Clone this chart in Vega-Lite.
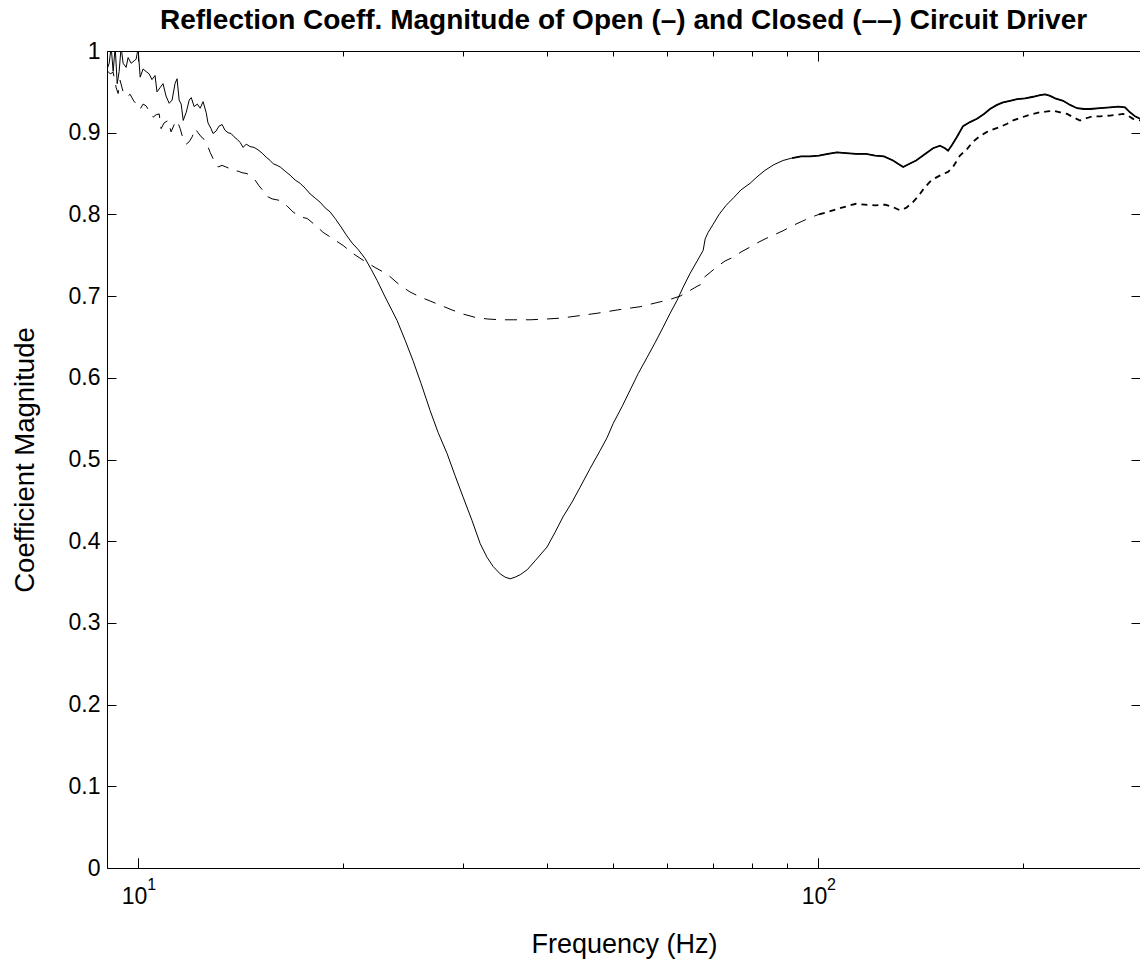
{
  "$schema": "https://vega.github.io/schema/vega-lite/v6.json",
  "width": 1033,
  "height": 817,
  "autosize": {"type": "none"},
  "padding": {"left": 107, "top": 51, "right": 0, "bottom": 98},
  "background": "white",
  "config": {
    "view": {"stroke": "black", "strokeWidth": 1},
    "font": "Liberation Sans",
    "axis": {
      "domain": false, "grid": false, "tickColor": "black", "tickWidth": 1,
      "labelColor": "black", "titleColor": "black", "labelFont": "Liberation Sans",
      "titleFont": "Liberation Sans", "labelFlush": false, "labelOverlap": false,
      "titleFontWeight": "normal"
    }
  },
  "title": {
    "text": "Reflection Coeff. Magnitude of Open (–) and Closed (––) Circuit Driver",
    "font": "Liberation Sans", "fontSize": 28, "fontWeight": "bold", "color": "black",
    "anchor": "middle", "frame": "group", "offset": 5
  },
  "datasets": {
    "open": [
      {"freq": 9.004, "mag": 0.978}, {"freq": 9.066, "mag": 0.985}, {"freq": 9.128, "mag": 1.005}, {"freq": 9.19, "mag": 0.975},
      {"freq": 9.253, "mag": 1.005}, {"freq": 9.316, "mag": 0.96}, {"freq": 9.378, "mag": 0.975}, {"freq": 9.441, "mag": 1.005},
      {"freq": 9.505, "mag": 0.985}, {"freq": 9.602, "mag": 0.98}, {"freq": 9.667, "mag": 0.992}, {"freq": 9.766, "mag": 0.985},
      {"freq": 9.866, "mag": 0.988}, {"freq": 9.933, "mag": 0.99}, {"freq": 10.0, "mag": 1.003}, {"freq": 10.07, "mag": 0.968},
      {"freq": 10.17, "mag": 0.978}, {"freq": 10.27, "mag": 0.975}, {"freq": 10.38, "mag": 0.972}, {"freq": 10.48, "mag": 0.965},
      {"freq": 10.59, "mag": 0.97}, {"freq": 10.66, "mag": 0.95}, {"freq": 10.77, "mag": 0.955}, {"freq": 10.88, "mag": 0.96},
      {"freq": 10.99, "mag": 0.945}, {"freq": 11.11, "mag": 0.936}, {"freq": 11.22, "mag": 0.94}, {"freq": 11.33, "mag": 0.96},
      {"freq": 11.41, "mag": 0.966}, {"freq": 11.49, "mag": 0.94}, {"freq": 11.57, "mag": 0.935}, {"freq": 11.65, "mag": 0.915},
      {"freq": 11.77, "mag": 0.925}, {"freq": 11.89, "mag": 0.94}, {"freq": 11.97, "mag": 0.943}, {"freq": 12.09, "mag": 0.932},
      {"freq": 12.22, "mag": 0.935}, {"freq": 12.34, "mag": 0.93}, {"freq": 12.46, "mag": 0.938}, {"freq": 12.59, "mag": 0.925},
      {"freq": 12.67, "mag": 0.912}, {"freq": 12.8, "mag": 0.905}, {"freq": 12.89, "mag": 0.899}, {"freq": 13.02, "mag": 0.902},
      {"freq": 13.15, "mag": 0.908}, {"freq": 13.29, "mag": 0.91}, {"freq": 13.42, "mag": 0.903}, {"freq": 13.56, "mag": 0.9},
      {"freq": 13.7, "mag": 0.899}, {"freq": 13.84, "mag": 0.895}, {"freq": 13.98, "mag": 0.892}, {"freq": 14.13, "mag": 0.888},
      {"freq": 14.27, "mag": 0.882}, {"freq": 14.42, "mag": 0.886}, {"freq": 14.61, "mag": 0.883}, {"freq": 14.81, "mag": 0.882},
      {"freq": 15.01, "mag": 0.879}, {"freq": 15.22, "mag": 0.875}, {"freq": 15.43, "mag": 0.87}, {"freq": 15.64, "mag": 0.866},
      {"freq": 15.8, "mag": 0.862}, {"freq": 16.01, "mag": 0.86}, {"freq": 16.18, "mag": 0.858}, {"freq": 16.45, "mag": 0.853},
      {"freq": 16.73, "mag": 0.848}, {"freq": 17.02, "mag": 0.842}, {"freq": 17.31, "mag": 0.838}, {"freq": 17.61, "mag": 0.832},
      {"freq": 17.91, "mag": 0.825}, {"freq": 18.21, "mag": 0.82}, {"freq": 18.52, "mag": 0.815}, {"freq": 18.84, "mag": 0.808},
      {"freq": 19.16, "mag": 0.803}, {"freq": 19.49, "mag": 0.795}, {"freq": 19.83, "mag": 0.786}, {"freq": 20.23, "mag": 0.775},
      {"freq": 20.64, "mag": 0.765}, {"freq": 21.07, "mag": 0.757}, {"freq": 21.57, "mag": 0.746}, {"freq": 22.01, "mag": 0.733},
      {"freq": 22.47, "mag": 0.719}, {"freq": 23.08, "mag": 0.699}, {"freq": 23.64, "mag": 0.682}, {"freq": 24.04, "mag": 0.67},
      {"freq": 24.7, "mag": 0.646}, {"freq": 25.37, "mag": 0.621}, {"freq": 26.07, "mag": 0.593}, {"freq": 26.88, "mag": 0.56},
      {"freq": 27.62, "mag": 0.533}, {"freq": 28.48, "mag": 0.507}, {"freq": 29.26, "mag": 0.48}, {"freq": 30.06, "mag": 0.454},
      {"freq": 30.99, "mag": 0.425}, {"freq": 31.85, "mag": 0.397}, {"freq": 32.61, "mag": 0.38}, {"freq": 33.28, "mag": 0.369},
      {"freq": 34.08, "mag": 0.36}, {"freq": 34.66, "mag": 0.356}, {"freq": 35.25, "mag": 0.354}, {"freq": 35.85, "mag": 0.356},
      {"freq": 36.47, "mag": 0.359}, {"freq": 37.34, "mag": 0.365}, {"freq": 38.36, "mag": 0.376}, {"freq": 39.95, "mag": 0.393},
      {"freq": 41.05, "mag": 0.411}, {"freq": 42.17, "mag": 0.43}, {"freq": 43.48, "mag": 0.448}, {"freq": 44.67, "mag": 0.466},
      {"freq": 46.21, "mag": 0.489}, {"freq": 47.81, "mag": 0.511}, {"freq": 48.96, "mag": 0.527}, {"freq": 49.96, "mag": 0.544},
      {"freq": 51.51, "mag": 0.565}, {"freq": 52.92, "mag": 0.585}, {"freq": 54.37, "mag": 0.605}, {"freq": 56.05, "mag": 0.625},
      {"freq": 57.59, "mag": 0.643}, {"freq": 59.18, "mag": 0.662}, {"freq": 60.6, "mag": 0.679}, {"freq": 62.05, "mag": 0.695},
      {"freq": 63.33, "mag": 0.711}, {"freq": 64.85, "mag": 0.728}, {"freq": 66.41, "mag": 0.743}, {"freq": 67.77, "mag": 0.756},
      {"freq": 68.23, "mag": 0.77}, {"freq": 68.93, "mag": 0.778}, {"freq": 70.11, "mag": 0.788}, {"freq": 71.52, "mag": 0.8},
      {"freq": 73.23, "mag": 0.811}, {"freq": 75.24, "mag": 0.821}, {"freq": 77.04, "mag": 0.83}, {"freq": 79.43, "mag": 0.838},
      {"freq": 81.34, "mag": 0.846}, {"freq": 83.57, "mag": 0.854}, {"freq": 86.16, "mag": 0.861}, {"freq": 88.83, "mag": 0.866},
      {"freq": 91.58, "mag": 0.869}, {"freq": 94.41, "mag": 0.871}, {"freq": 97.33, "mag": 0.871}, {"freq": 100.3, "mag": 0.872},
      {"freq": 103.4, "mag": 0.874}, {"freq": 106.6, "mag": 0.876}, {"freq": 109.9, "mag": 0.875}, {"freq": 113.7, "mag": 0.874},
      {"freq": 117.7, "mag": 0.874}, {"freq": 121.3, "mag": 0.872}, {"freq": 125.0, "mag": 0.871}, {"freq": 128.9, "mag": 0.866},
      {"freq": 131.1, "mag": 0.862}, {"freq": 133.4, "mag": 0.858}, {"freq": 135.6, "mag": 0.861}, {"freq": 139.4, "mag": 0.866},
      {"freq": 143.7, "mag": 0.874}, {"freq": 147.6, "mag": 0.881}, {"freq": 151.1, "mag": 0.884}, {"freq": 153.7, "mag": 0.881},
      {"freq": 155.3, "mag": 0.878}, {"freq": 157.4, "mag": 0.885}, {"freq": 160.1, "mag": 0.895}, {"freq": 163.4, "mag": 0.908},
      {"freq": 167.3, "mag": 0.913}, {"freq": 171.3, "mag": 0.917}, {"freq": 175.4, "mag": 0.923}, {"freq": 179.0, "mag": 0.929},
      {"freq": 183.3, "mag": 0.934}, {"freq": 187.1, "mag": 0.937}, {"freq": 191.6, "mag": 0.939}, {"freq": 196.2, "mag": 0.941},
      {"freq": 201.6, "mag": 0.942}, {"freq": 207.2, "mag": 0.944}, {"freq": 212.1, "mag": 0.946}, {"freq": 215.8, "mag": 0.947},
      {"freq": 219.5, "mag": 0.945}, {"freq": 223.2, "mag": 0.942}, {"freq": 229.3, "mag": 0.939}, {"freq": 234.8, "mag": 0.934},
      {"freq": 240.4, "mag": 0.93}, {"freq": 246.1, "mag": 0.929}, {"freq": 251.2, "mag": 0.929}, {"freq": 259.8, "mag": 0.93},
      {"freq": 268.8, "mag": 0.931}, {"freq": 276.3, "mag": 0.932}, {"freq": 282.8, "mag": 0.931}, {"freq": 287.6, "mag": 0.925},
      {"freq": 292.6, "mag": 0.92}, {"freq": 297.6, "mag": 0.917}
    ],
    "closed": [
      {"freq": 9.004, "mag": 0.976}, {"freq": 9.097, "mag": 0.972}, {"freq": 9.19, "mag": 0.974}, {"freq": 9.284, "mag": 0.955},
      {"freq": 9.345, "mag": 0.948}, {"freq": 9.409, "mag": 0.964}, {"freq": 9.505, "mag": 0.95}, {"freq": 9.634, "mag": 0.944},
      {"freq": 9.733, "mag": 0.947}, {"freq": 9.866, "mag": 0.938}, {"freq": 10.0, "mag": 0.935}, {"freq": 10.07, "mag": 0.929},
      {"freq": 10.17, "mag": 0.935}, {"freq": 10.27, "mag": 0.933}, {"freq": 10.41, "mag": 0.925}, {"freq": 10.52, "mag": 0.919},
      {"freq": 10.63, "mag": 0.922}, {"freq": 10.74, "mag": 0.923}, {"freq": 10.81, "mag": 0.905}, {"freq": 10.92, "mag": 0.912},
      {"freq": 11.07, "mag": 0.915}, {"freq": 11.18, "mag": 0.901}, {"freq": 11.3, "mag": 0.91}, {"freq": 11.41, "mag": 0.915},
      {"freq": 11.53, "mag": 0.905}, {"freq": 11.65, "mag": 0.892}, {"freq": 11.77, "mag": 0.886}, {"freq": 11.89, "mag": 0.889},
      {"freq": 12.01, "mag": 0.895}, {"freq": 12.13, "mag": 0.905}, {"freq": 12.25, "mag": 0.9}, {"freq": 12.38, "mag": 0.895},
      {"freq": 12.5, "mag": 0.892}, {"freq": 12.63, "mag": 0.886}, {"freq": 12.76, "mag": 0.876}, {"freq": 12.93, "mag": 0.866},
      {"freq": 13.11, "mag": 0.858}, {"freq": 13.29, "mag": 0.86}, {"freq": 13.47, "mag": 0.858}, {"freq": 13.65, "mag": 0.856},
      {"freq": 13.84, "mag": 0.853}, {"freq": 14.03, "mag": 0.853}, {"freq": 14.22, "mag": 0.851}, {"freq": 14.46, "mag": 0.85},
      {"freq": 14.66, "mag": 0.846}, {"freq": 14.86, "mag": 0.842}, {"freq": 15.06, "mag": 0.835}, {"freq": 15.27, "mag": 0.829},
      {"freq": 15.48, "mag": 0.822}, {"freq": 15.74, "mag": 0.819}, {"freq": 15.96, "mag": 0.818}, {"freq": 16.18, "mag": 0.817},
      {"freq": 16.57, "mag": 0.81}, {"freq": 16.9, "mag": 0.803}, {"freq": 17.31, "mag": 0.797}, {"freq": 17.73, "mag": 0.795},
      {"freq": 18.21, "mag": 0.787}, {"freq": 18.71, "mag": 0.778}, {"freq": 19.36, "mag": 0.77}, {"freq": 20.02, "mag": 0.762},
      {"freq": 20.71, "mag": 0.752}, {"freq": 21.42, "mag": 0.744}, {"freq": 22.31, "mag": 0.735}, {"freq": 23.24, "mag": 0.727},
      {"freq": 24.29, "mag": 0.713}, {"freq": 25.12, "mag": 0.705}, {"freq": 25.98, "mag": 0.699}, {"freq": 26.88, "mag": 0.694},
      {"freq": 27.81, "mag": 0.689}, {"freq": 28.96, "mag": 0.683}, {"freq": 30.06, "mag": 0.678}, {"freq": 31.31, "mag": 0.674},
      {"freq": 32.61, "mag": 0.672}, {"freq": 34.08, "mag": 0.671}, {"freq": 35.61, "mag": 0.671}, {"freq": 37.72, "mag": 0.671},
      {"freq": 39.95, "mag": 0.672}, {"freq": 41.75, "mag": 0.673}, {"freq": 43.62, "mag": 0.675}, {"freq": 45.43, "mag": 0.677},
      {"freq": 47.32, "mag": 0.679}, {"freq": 48.96, "mag": 0.681}, {"freq": 50.64, "mag": 0.683}, {"freq": 52.57, "mag": 0.685},
      {"freq": 54.74, "mag": 0.687}, {"freq": 56.62, "mag": 0.69}, {"freq": 58.58, "mag": 0.693}, {"freq": 60.6, "mag": 0.696},
      {"freq": 62.69, "mag": 0.7}, {"freq": 64.85, "mag": 0.707}, {"freq": 66.41, "mag": 0.712}, {"freq": 67.54, "mag": 0.715},
      {"freq": 68.0, "mag": 0.723}, {"freq": 69.4, "mag": 0.729}, {"freq": 70.79, "mag": 0.735}, {"freq": 72.98, "mag": 0.743},
      {"freq": 75.24, "mag": 0.748}, {"freq": 77.04, "mag": 0.754}, {"freq": 79.43, "mag": 0.76}, {"freq": 81.34, "mag": 0.765},
      {"freq": 83.57, "mag": 0.77}, {"freq": 86.16, "mag": 0.775}, {"freq": 88.83, "mag": 0.78}, {"freq": 91.58, "mag": 0.786},
      {"freq": 94.41, "mag": 0.791}, {"freq": 97.33, "mag": 0.796}, {"freq": 100.3, "mag": 0.8}, {"freq": 103.4, "mag": 0.803},
      {"freq": 107.0, "mag": 0.807}, {"freq": 110.3, "mag": 0.81}, {"freq": 113.7, "mag": 0.813}, {"freq": 117.2, "mag": 0.812},
      {"freq": 121.3, "mag": 0.811}, {"freq": 125.5, "mag": 0.812}, {"freq": 128.9, "mag": 0.809}, {"freq": 132.0, "mag": 0.805},
      {"freq": 134.7, "mag": 0.808}, {"freq": 137.5, "mag": 0.814}, {"freq": 140.3, "mag": 0.822}, {"freq": 143.2, "mag": 0.832},
      {"freq": 146.1, "mag": 0.84}, {"freq": 149.1, "mag": 0.845}, {"freq": 152.2, "mag": 0.849}, {"freq": 155.3, "mag": 0.852},
      {"freq": 157.9, "mag": 0.858}, {"freq": 161.7, "mag": 0.872}, {"freq": 165.6, "mag": 0.88}, {"freq": 169.0, "mag": 0.889},
      {"freq": 173.1, "mag": 0.896}, {"freq": 177.2, "mag": 0.901}, {"freq": 180.9, "mag": 0.904}, {"freq": 185.2, "mag": 0.907},
      {"freq": 189.7, "mag": 0.911}, {"freq": 193.6, "mag": 0.915}, {"freq": 198.2, "mag": 0.918}, {"freq": 203.0, "mag": 0.921},
      {"freq": 207.2, "mag": 0.923}, {"freq": 212.1, "mag": 0.925}, {"freq": 217.3, "mag": 0.926}, {"freq": 221.7, "mag": 0.927},
      {"freq": 227.0, "mag": 0.925}, {"freq": 232.5, "mag": 0.923}, {"freq": 237.1, "mag": 0.919}, {"freq": 242.8, "mag": 0.915},
      {"freq": 248.6, "mag": 0.918}, {"freq": 253.7, "mag": 0.92}, {"freq": 259.8, "mag": 0.92}, {"freq": 268.8, "mag": 0.921},
      {"freq": 275.3, "mag": 0.922}, {"freq": 280.9, "mag": 0.923}, {"freq": 285.7, "mag": 0.921}, {"freq": 290.6, "mag": 0.917},
      {"freq": 297.6, "mag": 0.915}
    ]
  },
  "layer": [
    {
      "data": {"name": "open"},
      "mark": {"type": "line", "color": "black", "strokeWidth": 1, "clip": true},
      "encoding": {
        "x": {
          "field": "freq", "type": "quantitative",
          "scale": {"type": "log", "domain": [9, 297.5], "nice": false},
          "axis": {
            "orient": "bottom", "values": [10, 100],
            "labelExpr": "'10'", "labelOffset": -4,
            "tickSize": -10, "labelPadding": 27, "labelFontSize": 23,
            "title": "Frequency (Hz)", "titleFontSize": 27,
            "titleX": 517, "titleY": 84, "titleAlign": "center", "titleBaseline": "alphabetic"
          }
        },
        "y": {
          "field": "mag", "type": "quantitative",
          "scale": {"domain": [0, 1], "nice": false, "zero": false},
          "axis": {
            "orient": "left", "values": [0, 0.1, 0.2, 0.3, 0.4, 0.5, 0.6, 0.7, 0.8, 0.9, 1],
            "labelExpr": "datum.value == 0 ? '0' : datum.value == 1 ? '1' : format(datum.value, '.1f')",
            "tickSize": -9, "labelPadding": 16, "labelFontSize": 23,
            "title": "Coefficient Magnitude", "titleFontSize": 27.5,
            "titleX": -74, "titleY": 408.5, "titleAngle": -90, "titleAlign": "center", "titleBaseline": "alphabetic"
          }
        }
      }
    },
    {
      "data": {"name": "open"},
      "transform": [{"filter": "datum.freq >= 91"}],
      "mark": {"type": "line", "color": "black", "strokeWidth": 1.8, "clip": true},
      "encoding": {
        "x": {"field": "freq", "type": "quantitative", "axis": null},
        "y": {"field": "mag", "type": "quantitative", "axis": null}
      }
    },
    {
      "data": {"name": "closed"},
      "transform": [{"filter": "datum.freq <= 100.3"}],
      "mark": {"type": "line", "color": "black", "strokeWidth": 1, "strokeDash": [12, 9], "clip": true},
      "encoding": {
        "x": {
          "field": "freq", "type": "quantitative",
          "axis": {"orient": "bottom", "values": [20, 30, 40, 50, 60, 70, 80, 90, 200], "tickSize": -5, "labels": false, "title": null}
        },
        "y": {
          "field": "mag", "type": "quantitative",
          "axis": {"orient": "right", "values": [0, 0.1, 0.2, 0.3, 0.4, 0.5, 0.6, 0.7, 0.8, 0.9, 1], "tickSize": -9, "labels": false, "title": null}
        }
      }
    },
    {
      "data": {"name": "closed"},
      "transform": [{"filter": "datum.freq >= 100.3"}],
      "mark": {"type": "line", "color": "black", "strokeWidth": 1.8, "strokeDash": [6, 5], "clip": true},
      "encoding": {
        "x": {"field": "freq", "type": "quantitative", "axis": null},
        "y": {"field": "mag", "type": "quantitative", "axis": null}
      }
    },
    {
      "data": {"name": "open"},
      "mark": {"type": "line", "strokeOpacity": 0, "clip": true},
      "encoding": {
        "x": {
          "field": "freq", "type": "quantitative",
          "axis": {"orient": "top", "values": [10, 100], "tickSize": -10, "labels": false, "title": null}
        },
        "y": {"field": "mag", "type": "quantitative", "axis": null}
      }
    },
    {
      "data": {"name": "open"},
      "mark": {"type": "line", "strokeOpacity": 0, "clip": true},
      "encoding": {
        "x": {
          "field": "freq", "type": "quantitative",
          "axis": {"orient": "top", "values": [20, 30, 40, 50, 60, 70, 80, 90, 200], "tickSize": -5, "labels": false, "title": null}
        },
        "y": {"field": "mag", "type": "quantitative", "axis": null}
      }
    },
    {
      "data": {"name": "open"},
      "mark": {"type": "line", "strokeOpacity": 0, "clip": true},
      "encoding": {
        "x": {
          "field": "freq", "type": "quantitative",
          "axis": {
            "orient": "bottom", "values": [10, 100], "tickSize": -10, "labelPadding": 18,
            "labelExpr": "datum.value < 50 ? '1' : '2'", "labelFontSize": 16, "labelOffset": 13, "title": null
          }
        },
        "y": {"field": "mag", "type": "quantitative", "axis": null}
      }
    }
  ],
  "resolve": {"axis": {"x": "independent", "y": "independent"}}
}
